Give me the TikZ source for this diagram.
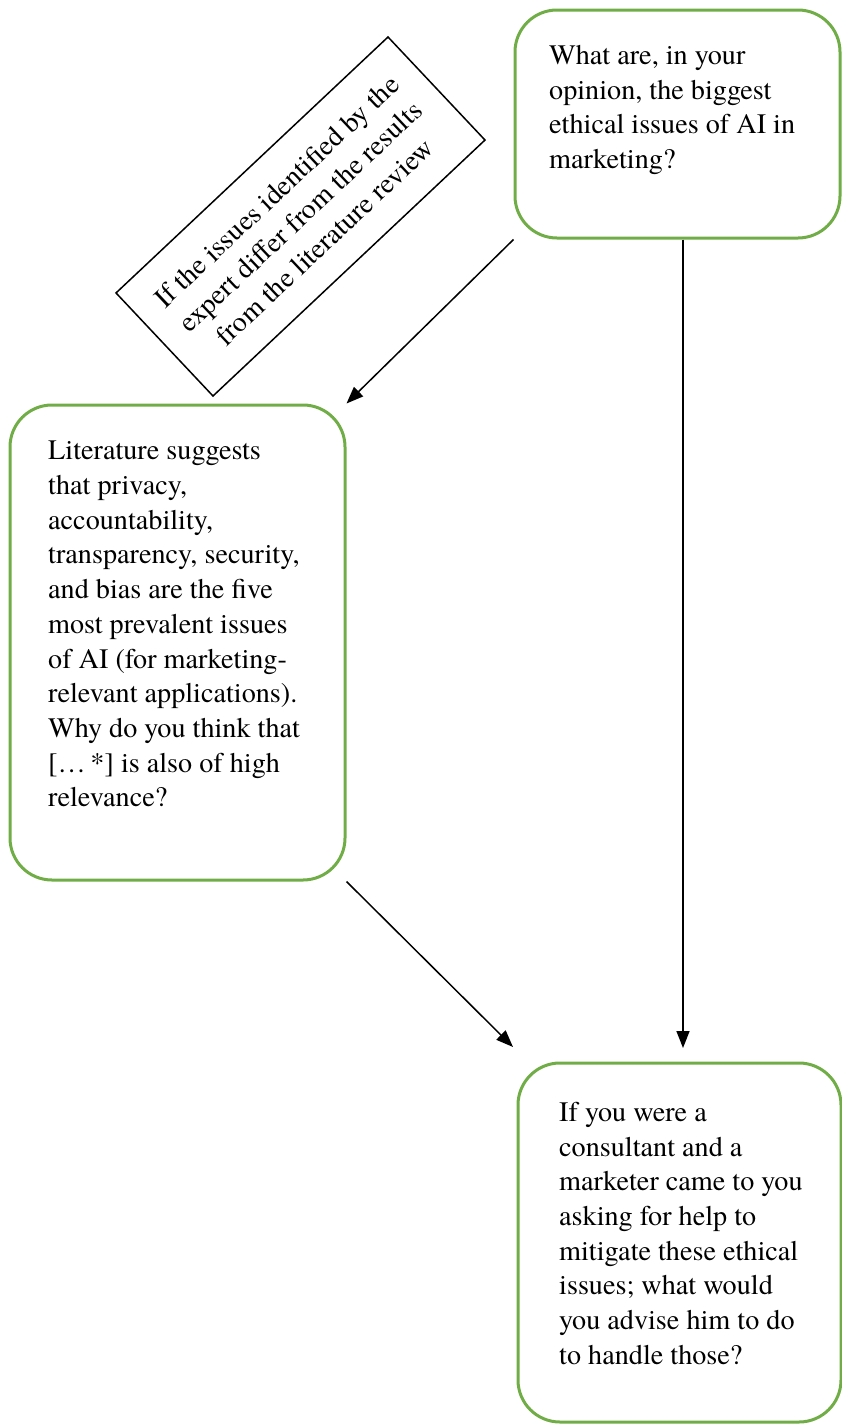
\documentclass[tikz,border=0pt]{standalone}
\usepackage{fontspec}
\setmainfont{texgyretermes-regular.otf}
\usetikzlibrary{arrows.meta}
\definecolor{boxgreen}{HTML}{70AD47}
\tikzset{
  gbox/.style={draw=boxgreen, line width=3pt, rounded corners=42pt, inner sep=0pt},
  txt/.style={inner sep=0pt, align=left, font=\fontsize{28.2}{34.7}\selectfont},
  rbox/.style={draw=black, line width=1.5pt, inner sep=0pt, align=center, font=\fontsize{28.2}{34.7}\selectfont},
  conn/.style={line width=1.5pt, -{Triangle[length=17pt,width=13pt]}}
}
\begin{document}
\begin{tikzpicture}[x=1pt,y=-1pt]
\useasboundingbox (0,0) rectangle (841,1424);
% boxes
\node[gbox, minimum width=325pt, minimum height=228pt] (b1) at (677.5,124) {};
\node[gbox, minimum width=335pt, minimum height=475pt] (b2) at (177.5,642.5) {};
\node[gbox, minimum width=323pt, minimum height=359pt] (b3) at (679.5,1242.5) {};
% texts
\node[txt, anchor=north west] (t1) at (549,45) {What are, in your\\opinion, the biggest\\ethical issues of AI in\\marketing?};
\node[txt, anchor=north west] (t2) at (48,441) {Literature suggests\\that privacy,\\accountability,\\transparency, security,\\and bias are the five\\most prevalent issues\\of AI (for marketing-\\relevant applications).\\Why do you think that\\{[}\ldots\,*{]} is also of high\\relevance?};
\node[txt, anchor=north west] (t3) at (559,1102) {If you were a\\consultant and a\\marketer came to you\\asking for help to\\mitigate these ethical\\issues; what would\\you advise him to do\\to handle those?};
% rotated condition box
\node[rbox, rotate=43.26, minimum width=373.5pt, minimum height=141.5pt] (rb) at (300.5,216.5) {If the issues identified by the\\expert differ from the results\\from the literature review};
% connectors
\coordinate (a3e) at (683,1048);
\coordinate (a3s) at (b1.south -| a3e);
\coordinate (a2e) at (513,1047);
\draw[conn] (b1.south west) -- (b2.north east);
\draw[conn] (b2.south east) -- (a2e);
\draw[conn] (a3s) -- (a3e);
\end{tikzpicture}
\end{document}
